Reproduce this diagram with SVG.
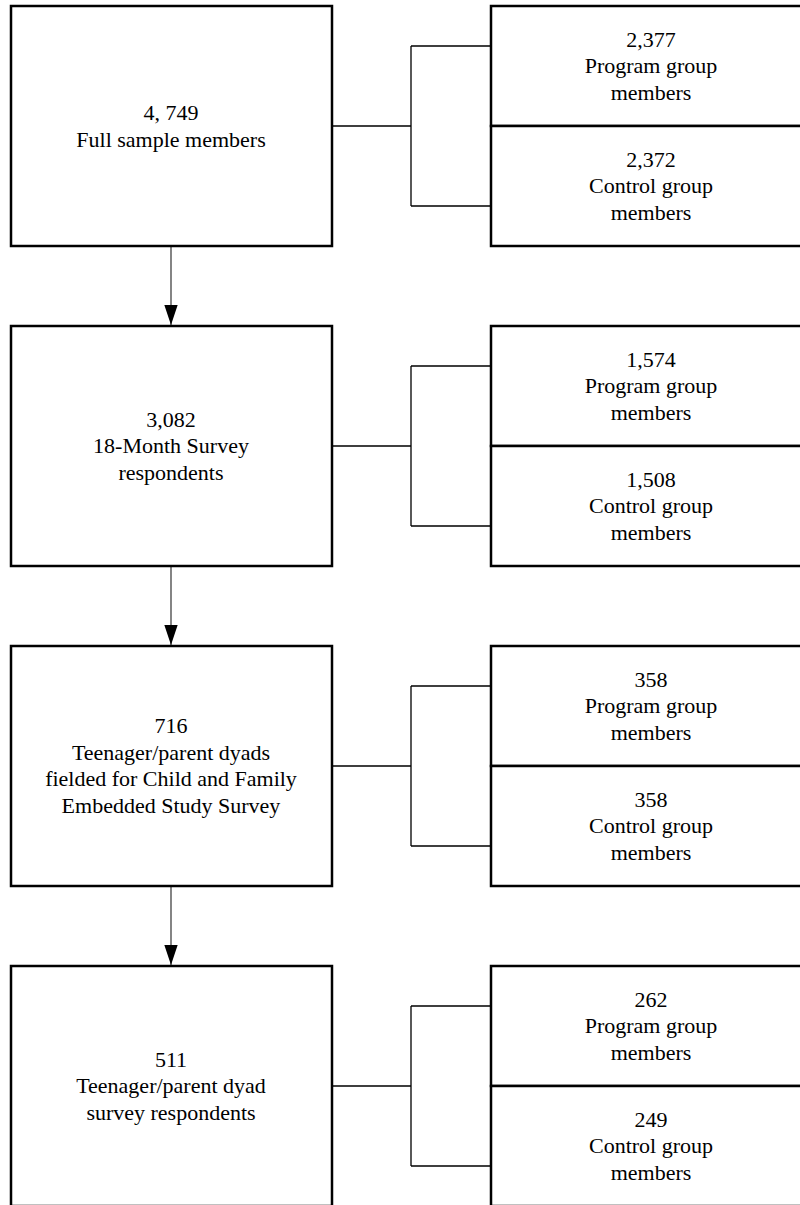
<svg xmlns="http://www.w3.org/2000/svg" width="800" height="1205" viewBox="0 0 800 1205">
<style>
.box{fill:#fff;stroke:#000;stroke-width:2.5}
.conn{fill:none;stroke:#000;stroke-width:1.3}
.arr{fill:none;stroke:#333;stroke-width:1.2}
text{font-family:'Liberation Serif','DejaVu Serif',serif;font-size:22px;fill:#000;text-anchor:middle}
</style>
<defs>
<marker id="ah" markerUnits="userSpaceOnUse" markerWidth="20" markerHeight="14" refX="18" refY="6" orient="auto" viewBox="0 0 18 12">
<path d="M0,0 L18,6 L0,12 Z" fill="#000"/>
</marker>
</defs>
<rect width="800" height="1205" fill="#fff"/>
<g id="connectors">
<path class="conn" d="M332,126 H411 M411,46 V206 M411,46 H491 M411,206 H491"/>
<path class="conn" d="M332,446 H411 M411,366 V526 M411,366 H491 M411,526 H491"/>
<path class="conn" d="M332,766 H411 M411,686 V846 M411,686 H491 M411,846 H491"/>
<path class="conn" d="M332,1086 H411 M411,1006 V1166 M411,1006 H491 M411,1166 H491"/>
<line class="arr" x1="171" y1="247" x2="171" y2="325" marker-end="url(#ah)"/>
<line class="arr" x1="171" y1="567" x2="171" y2="645" marker-end="url(#ah)"/>
<line class="arr" x1="171" y1="887" x2="171" y2="965" marker-end="url(#ah)"/>
</g>
<g id="full-sample">
<rect class="box" x="11" y="6" width="321" height="240"/>
<text x="171" y="120">4, 749</text>
<text x="171" y="146.5">Full sample members</text>
</g>
<g id="full-program">
<rect class="box" x="491" y="6" width="320" height="120"/>
<text x="651" y="46.5">2,377</text>
<text x="651" y="73">Program group</text>
<text x="651" y="99.5">members</text>
</g>
<g id="full-control">
<rect class="box" x="491" y="126" width="320" height="120"/>
<text x="651" y="166.5">2,372</text>
<text x="651" y="193">Control group</text>
<text x="651" y="219.5">members</text>
</g>
<g id="survey18">
<rect class="box" x="11" y="326" width="321" height="240"/>
<text x="171" y="426.5">3,082</text>
<text x="171" y="453">18-Month Survey</text>
<text x="171" y="479.5">respondents</text>
</g>
<g id="survey18-program">
<rect class="box" x="491" y="326" width="320" height="120"/>
<text x="651" y="366.5">1,574</text>
<text x="651" y="393">Program group</text>
<text x="651" y="419.5">members</text>
</g>
<g id="survey18-control">
<rect class="box" x="491" y="446" width="320" height="120"/>
<text x="651" y="486.5">1,508</text>
<text x="651" y="513">Control group</text>
<text x="651" y="539.5">members</text>
</g>
<g id="fielded">
<rect class="box" x="11" y="646" width="321" height="240"/>
<text x="171" y="733">716</text>
<text x="171" y="759.5">Teenager/parent dyads</text>
<text x="171" y="786">fielded for Child and Family</text>
<text x="171" y="812.5">Embedded Study Survey</text>
</g>
<g id="fielded-program">
<rect class="box" x="491" y="646" width="320" height="120"/>
<text x="651" y="686.5">358</text>
<text x="651" y="713">Program group</text>
<text x="651" y="739.5">members</text>
</g>
<g id="fielded-control">
<rect class="box" x="491" y="766" width="320" height="120"/>
<text x="651" y="806.5">358</text>
<text x="651" y="833">Control group</text>
<text x="651" y="859.5">members</text>
</g>
<g id="respondents">
<rect class="box" x="11" y="966" width="321" height="240"/>
<text x="171" y="1066.5">511</text>
<text x="171" y="1093">Teenager/parent dyad</text>
<text x="171" y="1119.5">survey respondents</text>
</g>
<g id="respondents-program">
<rect class="box" x="491" y="966" width="320" height="120"/>
<text x="651" y="1006.5">262</text>
<text x="651" y="1033">Program group</text>
<text x="651" y="1059.5">members</text>
</g>
<g id="respondents-control">
<rect class="box" x="491" y="1086" width="320" height="120"/>
<text x="651" y="1126.5">249</text>
<text x="651" y="1153">Control group</text>
<text x="651" y="1179.5">members</text>
</g>
</svg>
